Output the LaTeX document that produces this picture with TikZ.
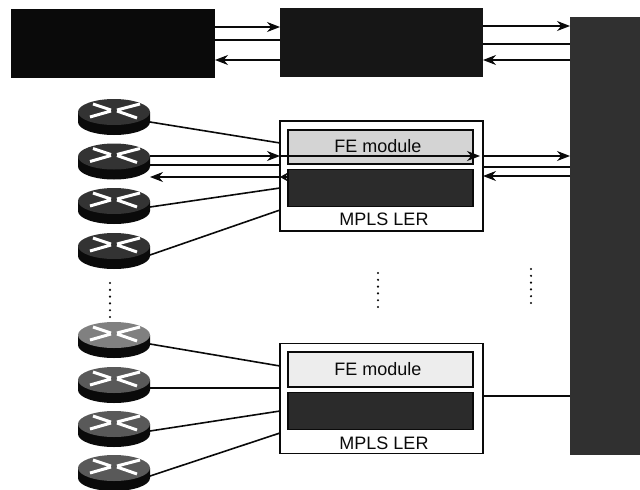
\documentclass[tikz,border=0pt]{standalone}
\usepackage{fontspec}
\setmainfont{Liberation Sans}
\usetikzlibrary{arrows.meta,positioning}
\definecolor{lerink}{HTML}{0A0A0A}
\definecolor{lerdark}{HTML}{2B2B2B}
\definecolor{lercore}{HTML}{303030}
\definecolor{lermid}{HTML}{161616}
\definecolor{lerpale}{HTML}{D4D4D4}
\definecolor{lerpaler}{HTML}{EDEDED}
\tikzset{
  ler text/.style={font=\fontsize{18}{20}\selectfont, text=lerink},
  ler block/.style={draw=none, minimum width=#1, inner sep=0pt, outer sep=0pt},
  ler panel/.style={draw=lerink, line width=1.4pt, fill=white, minimum width=203pt,
    minimum height=110pt, inner sep=0pt, outer sep=0pt},
  ler module/.style={draw=lerink, line width=1.2pt, minimum width=185pt, inner sep=0pt},
  ler router/.style={minimum width=72pt, minimum height=36pt, inner sep=0pt, outer sep=0pt},
  ler arrow/.style={-{Stealth[length=13pt,width=10pt]}, draw=lerink, line width=1.1pt},
  ler link/.style={draw=lerink, line width=1.6pt},
  ler dots/.style={draw=lerink, line width=2.4pt, line cap=round, dash pattern=on 0pt off 6.8pt}
}
\newcommand{\lerrouter}[3]{%
  \node[ler router] (#1) at (114,#2) {};
  \begin{scope}[shift={(#1.center)}]
    \fill[lerink] (-36,-5) -- (-36,5) arc[start angle=180, end angle=0, x radius=36, y radius=13]
      -- (36,-5) -- cycle;
    \fill[#3] (0,-5) ellipse[x radius=36, y radius=13];
    \draw[white, line width=3pt] (-21,-13) -- (-3,-7) (3,-6) -- (23,1)
      (3,-7) -- (26,-13) (-24,0) -- (-3,-6);
  \end{scope}
}
\begin{document}
\begin{tikzpicture}[ler text, x=1pt, y=-1pt]
  \useasboundingbox (0,0) rectangle (640,490);
  \node[ler block=204pt, minimum height=69pt, fill=lerink] (hostl) at (113,43.5) {};
  \node[ler block=203pt, minimum height=69pt, fill=lermid] (hostm) at (381.5,42.5) {};
  \node[ler block=70pt, minimum height=438pt, fill=lercore] (core) at (605,236) {};
  % upper edge router
  \node[ler panel] (lera) at (381.5,176) {};
  \node[ler module, fill=lerpale, minimum height=34pt] (fea) at (380.5,147) {};
  \node[ler module, fill=lerdark, minimum height=37pt, below=4pt of fea] (mpa) {};
  \node at (384,219) {MPLS LER};
  \node at (378,146) {FE module};
  % lower edge router
  \node[ler panel] (lerb) at (381.5,398.5) {};
  \node[ler module, fill=lerpaler, minimum height=35pt] (feb) at (380.5,369.5) {};
  \node[ler module, fill=lerdark, minimum height=37pt, below=4pt of feb] (mpb) {};
  \node at (384,443) {MPLS LER};
  \node at (378,369) {FE module};
  % routers
  \foreach \rname/\rpos/\rtop in {ra/117/black!80, rb/161.5/black!80, rc/206/black!80, rd/251/black!80,
      re/340/black!50, rf/385/black!65, rg/429/black!65, rh/473/black!65}
    {\lerrouter{\rname}{\rpos}{\rtop}}
  % top row
  \draw[ler arrow] (hostl.east |- 0,27) -- (hostm.west |- 0,27);
  \draw[ler link] (hostl.east |- 0,40) -- (hostm.west |- 0,40);
  \draw[ler arrow] (hostm.west |- 0,60) -- (hostl.east |- 0,60);
  \draw[ler arrow] (hostm.east |- 0,26) -- (core.west |- 0,26);
  \draw[ler link] (hostm.east |- 0,44) -- (core.west |- 0,44);
  \draw[ler arrow] (core.west |- 0,60) -- (hostm.east |- 0,60);
  % routers to upper panel
  \draw[ler link] (ra.east |- 0,122) -- (lera.west |- 0,143);
  \draw[ler arrow] (rb.east |- 0,156) -- (lera.west |- 0,156);
  \draw[ler link] (rb.east |- 0,165) -- (lera.west |- 0,165);
  \draw[ler arrow] (lera.west |- 0,177) -- (rb.east |- 0,177);
  \draw[ler link] (rc.east |- 0,207) -- (lera.west |- 0,188);
  \draw[ler link] (rd.east |- 0,255) -- (lera.west |- 0,210);
  % through the upper panel
  \draw[ler arrow, shorten >=3pt] (lera.west |- 0,156) -- (lera.east |- 0,156);
  \draw[-{Stealth[length=8pt,width=9pt]}, draw=lerink, line width=1.1pt] (mpa.west |- 0,177) -- (lera.west |- 0,177);
  \draw[ler arrow] (lera.east |- 0,156) -- (core.west |- 0,156);
  \draw[ler link] (lera.east |- 0,167) -- (core.west |- 0,167);
  \draw[ler arrow] (core.west |- 0,176) -- (lera.east |- 0,176);
  % routers to lower panel
  \draw[ler link] (re.east |- 0,344) -- (lerb.west |- 0,366);
  \draw[ler link] (rf.east |- 0,388) -- (lerb.west |- 0,388);
  \draw[ler link] (rg.east |- 0,431) -- (lerb.west |- 0,411);
  \draw[ler link] (rh.east |- 0,476) -- (lerb.west |- 0,433);
  \draw[ler link] (lerb.east |- 0,396) -- (core.west |- 0,396);
  % dots
  \draw[ler dots] (110,283) -- (110,318);
  \draw[ler dots] (378,273) -- (378,308);
  \draw[ler dots] (531,269) -- (531,304);
\end{tikzpicture}
\end{document}
